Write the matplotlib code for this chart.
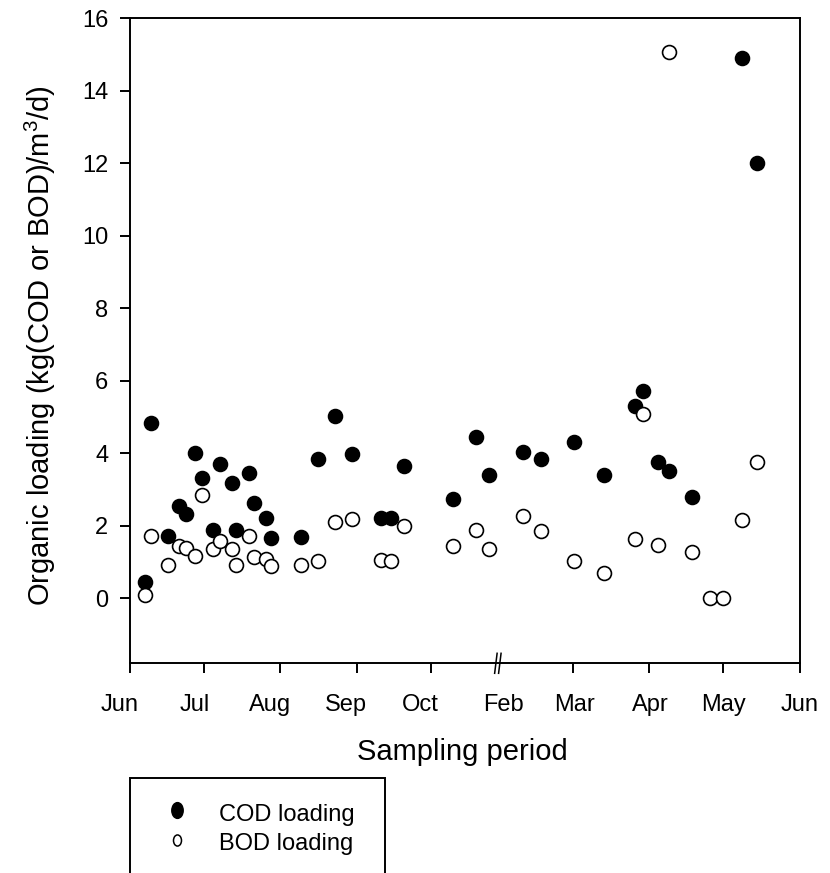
import numpy as np
import matplotlib
matplotlib.use("Agg")
import matplotlib.pyplot as plt
from matplotlib.path import Path
from matplotlib.transforms import Affine2D, blended_transform_factory
from matplotlib.lines import Line2D
from matplotlib.patches import Rectangle

plt.rcParams["font.family"] = ["Liberation Sans", "DejaVu Sans"]
plt.rcParams["mathtext.fontset"] = "custom"
plt.rcParams["mathtext.rm"] = "Liberation Sans"
plt.rcParams["mathtext.it"] = "Liberation Sans:italic"

# Sampling positions along the broken time axis (days; Jun 1 = 0, the
# Oct-Jan gap is cut out so the second Jun 1 sits at 271.4)
sample_day = [6.4, 8.8, 15.5, 20.1, 22.7, 26.6, 29.4, 34.0, 36.5, 41.4,
              43.2, 48.2, 50.2, 55.1, 57.1, 69.4, 76.3, 83.3, 90.2, 101.7,
              105.7, 111.0, 130.9, 140.4, 145.5, 159.3, 166.4, 180.1, 192.1, 204.8,
              207.9, 214.0, 218.5, 227.8, 234.9, 240.3, 247.8, 254.1]

# Organic loading, kg(COD or BOD)/m3/d
cod_loading = [0.45, 4.84, 1.71, 2.54, 2.33, 4.02, 3.31, 1.90, 3.71, 3.18,
               1.88, 3.45, 2.63, 2.22, 1.67, 1.70, 3.84, 5.04, 3.98, 2.22,
               2.22, 3.65, 2.74, 4.46, 3.41, 4.05, 3.84, 4.30, 3.41, 5.31,
               5.71, 3.77, 3.52, 2.79, np.nan, np.nan, 14.90, 12.00]
bod_loading = [0.09, 1.71, 0.91, 1.44, 1.39, 1.16, 2.84, 1.37, 1.57, 1.35,
               0.91, 1.71, 1.15, 1.09, 0.89, 0.91, 1.02, 2.11, 2.19, 1.07,
               1.02, 2.01, 1.44, 1.90, 1.37, 2.28, 1.85, 1.02, 0.71, 1.64,
               5.08, 1.46, 15.08, 1.27, 0.02, 0.02, 2.15, 3.77]

series_names = ["COD loading", "BOD loading"]

# Month ticks and labels on the broken axis
month_tick_pos = [0, 30, 61, 92, 122, 179.4, 210.4, 240.4, 271.4]
month_labels = ["Jun", "Jul", "Aug", "Sep", "Oct", "Feb", "Mar", "Apr", "May", "Jun"]
month_label_pos = [-3.9, 26.3, 56.8, 87.4, 117.6, 151.2, 180.2, 210.8, 240.3, 271.2]
axis_break_day = 149.0

y_ticks = [0, 2, 4, 6, 8, 10, 12, 14, 16]

W, H = 830, 873
fig = plt.figure(figsize=(W / 100, H / 100), dpi=100)
fig.patch.set_facecolor("white")


def fx(px):
    return px / W


def fy(py):
    return 1 - py / H


ax_left, ax_right, ax_top, ax_bottom = 129.5, 800.0, 18.3, 663.3
ax = fig.add_axes([fx(ax_left), fy(ax_bottom), fx(ax_right - ax_left),
                   (ax_bottom - ax_top) / H])

ax.plot(sample_day, cod_loading, linestyle="none", marker="o", ms=10,
        mfc="black", mec="black", mew=1.2, zorder=3, clip_on=False)
ax.plot(sample_day, bod_loading, linestyle="none", marker="o", ms=10,
        mfc="white", mec="black", mew=1.2, zorder=4, clip_on=False)

ax.set_xlim(0, 271.4)
ax.set_ylim(-1.79, 16)

for sp in ax.spines.values():
    sp.set_linewidth(1.4)
    sp.set_color("black")

ax.set_yticks(y_ticks)
ax.set_yticklabels([str(v) for v in y_ticks])
ax.set_xticks(month_tick_pos)
ax.set_xticklabels([])
ax.tick_params(axis="both", direction="out", length=7.2, width=1.4,
               color="black", labelsize=17, pad=8)

# Month names below the axis
trans_x = blended_transform_factory(ax.transData, ax.transAxes)
for pos, lab in zip(month_label_pos, month_labels):
    ax.annotate(lab, xy=(pos, 0), xycoords=trans_x, xytext=(0, -34.2),
                textcoords="offset points", ha="center", va="baseline",
                fontsize=17, annotation_clip=False)

# Axis break marks
brk_h = 10.0 / (ax_bottom - ax_top)
for dx in (-1.2, 0.4):
    ax.plot([axis_break_day + dx, axis_break_day + dx + 1.0], [-brk_h, brk_h],
            transform=trans_x, color="black", lw=1.1, clip_on=False, zorder=5)

fig.text(fx(462), fy(760), "Sampling period", ha="center", va="baseline",
         fontsize=21)
fig.text(fx(40), fy(346), r"Organic loading (kg(COD or BOD)/m$^3$/d)",
         ha="center", va="center", rotation=90, fontsize=21)

# Legend box (runs off the bottom edge)
fig.add_artist(Rectangle((fx(130), fy(910)), fx(255), (910 - 777.7) / H,
                         transform=fig.transFigure, fill=False,
                         lw=1.4, ec="black"))

ellipse = Path.unit_circle().transformed(Affine2D().scale(0.72, 1.0))
legend_styles = [dict(mfc="black", ms=11.3), dict(mfc="white", ms=8.0)]
for i, (name, st) in enumerate(zip(series_names, legend_styles)):
    yc = 810 + 29.5 * i
    fig.add_artist(Line2D([fx(176.7)], [fy(yc)], transform=fig.transFigure,
                          linestyle="none", marker=ellipse, mec="black",
                          mew=1.1, **st))
    fig.text(fx(219), fy(yc + 10.5), name, ha="left", va="baseline",
             fontsize=17)

fig.savefig("out.png", dpi=100, facecolor="white")
